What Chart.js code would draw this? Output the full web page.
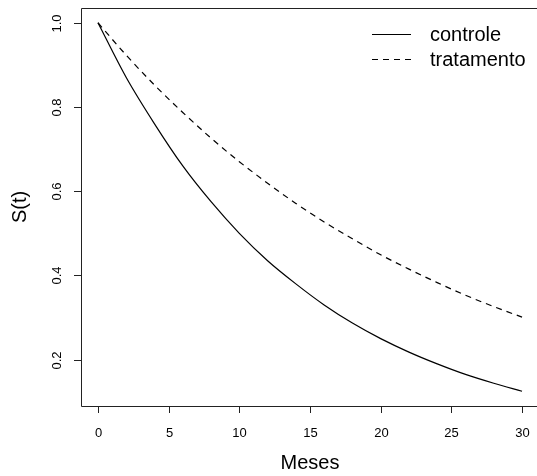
<!DOCTYPE html>
<html>
<head>
<meta charset="utf-8">
<script src="https://cdn.jsdelivr.net/npm/chart.js@4.4.0/dist/chart.umd.min.js"></script>
<style>
html,body{margin:0;padding:0;background:#fff;overflow:hidden;}
#wrap{width:545px;height:476px;}
</style>
</head>
<body>
<div id="wrap"><canvas id="c" width="545" height="476"></canvas></div>
<script>
const months = [0, 2, 4, 6, 8, 10, 12, 14, 16, 18, 20, 22, 24, 26, 28, 30];
const controle = [1.00, 0.87, 0.76, 0.66, 0.575, 0.50, 0.435, 0.38, 0.33, 0.287, 0.25, 0.218, 0.19, 0.165, 0.144, 0.125];
const tratamento = [1.00, 0.923, 0.852, 0.787, 0.726, 0.67, 0.619, 0.571, 0.527, 0.487, 0.449, 0.415, 0.383, 0.353, 0.326, 0.301];
const xTicks = [0, 5, 10, 15, 20, 25, 30];
const yTicks = [0.2, 0.4, 0.6, 0.8, 1.0];
const seriesNames = ['controle', 'tratamento'];
const xTitle = 'Meses';
const yTitle = 'S(t)';

const FONT = '"Liberation Sans", Arial, Helvetica, sans-serif';

const rPlugin = {
  id: 'rstyle',
  afterDraw(chart) {
    const ctx = chart.ctx;
    const a = chart.chartArea;
    const xs = chart.scales.x, ys = chart.scales.y;
    ctx.save();
    ctx.strokeStyle = '#222';
    ctx.lineWidth = 1;
    const L = Math.round(a.left) + 0.5, T = Math.round(a.top) + 0.5;
    const B = Math.round(a.bottom) + 0.5, R = Math.round(a.right) + 0.5;
    ctx.beginPath();
    ctx.moveTo(R, T); ctx.lineTo(L, T); ctx.lineTo(L, B); ctx.lineTo(R, B);
    ctx.stroke();
    ctx.fillStyle = '#000';
    ctx.font = '13px ' + FONT;
    ctx.textAlign = 'center';
    ctx.textBaseline = 'middle';
    xTicks.forEach(v => {
      const px = Math.round(xs.getPixelForValue(v)) + 0.5;
      ctx.beginPath();
      ctx.moveTo(px, a.bottom);
      ctx.lineTo(px, a.bottom + 7);
      ctx.stroke();
      ctx.fillText(String(v), px, 433);
    });
    yTicks.forEach(v => {
      const py = Math.round(ys.getPixelForValue(v)) + 0.5;
      ctx.beginPath();
      ctx.moveTo(a.left, py);
      ctx.lineTo(a.left - 7, py);
      ctx.stroke();
      ctx.save();
      ctx.translate(57.5, py);
      ctx.rotate(-Math.PI / 2);
      ctx.fillText(v.toFixed(1), 0, 0);
      ctx.restore();
    });
    ctx.font = '20px ' + FONT;
    ctx.fillText(xTitle, (a.left + a.right) / 2, 463);
    ctx.save();
    ctx.translate(20, (a.top + a.bottom) / 2);
    ctx.rotate(-Math.PI / 2);
    ctx.fillText(yTitle, 0, 0);
    ctx.restore();
    const ly = [34, 59];
    const dashes = [[], [6, 5]];
    ctx.textAlign = 'left';
    ctx.strokeStyle = '#000';
    seriesNames.forEach((n, i) => {
      ctx.setLineDash(dashes[i]);
      ctx.beginPath();
      ctx.moveTo(372, ly[i] + 0.5);
      ctx.lineTo(411, ly[i] + 0.5);
      ctx.stroke();
      ctx.setLineDash([]);
      ctx.fillText(n, 430, ly[i] + 1);
    });
    ctx.restore();
  }
};

new Chart(document.getElementById('c'), {
  type: 'line',
  data: {
    datasets: [
      {
        label: seriesNames[0],
        data: months.map((m, i) => ({x: m, y: controle[i]})),
        borderColor: '#000', borderWidth: 1.2, pointRadius: 0,
        cubicInterpolationMode: 'monotone', fill: false
      },
      {
        label: seriesNames[1],
        data: months.map((m, i) => ({x: m, y: tratamento[i]})),
        borderColor: '#000', borderWidth: 1.2, pointRadius: 0, borderDash: [6, 5],
        cubicInterpolationMode: 'monotone', fill: false
      }
    ]
  },
  options: {
    responsive: false,
    animation: false,
    events: [],
    layout: {padding: {top: 8, right: 6, left: 0, bottom: 0}},
    plugins: {legend: {display: false}, tooltip: {enabled: false}},
    scales: {
      x: {
        type: 'linear', min: -1.2, max: 31.2,
        grid: {display: false}, border: {display: false},
        ticks: {display: false},
        afterFit(s) { s.height = 70; }
      },
      y: {
        type: 'linear', min: 0.09, max: 1.035,
        grid: {display: false}, border: {display: false},
        ticks: {display: false},
        afterFit(s) { s.width = 81; }
      }
    }
  },
  plugins: [rPlugin]
});
</script>
</body>
</html>
